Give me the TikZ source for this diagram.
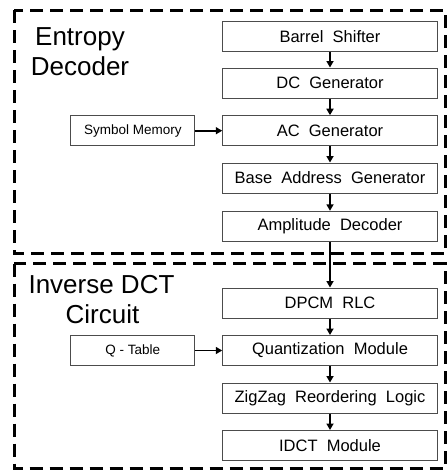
\documentclass[tikz,border=0pt]{standalone}
\usepackage{fontspec}
\setmainfont{Liberation Sans}
\newfontfamily\wideboxfont[WordSpace=2]{Liberation Sans}
\usetikzlibrary{arrows.meta}
\tikzset{
  mainbox/.style={draw=black!70, line width=1pt, minimum width=214.5pt, minimum height=30pt, inner sep=0pt,
    font=\wideboxfont\fontsize{16.5}{18}\selectfont},
  sidebox/.style={draw=black!70, line width=1pt, minimum width=124.3pt, minimum height=30pt, inner sep=0pt,
    font=\fontsize{13.5}{16}\selectfont},
  biglabel/.style={anchor=base, inner sep=0pt, font=\fontsize{26}{30}\selectfont},
  flow/.style={line width=1.8pt, -{Triangle[length=6.5pt,width=7pt]}},
  region/.style={line width=3pt, dash pattern=on 13pt off 7pt},
}
\begin{document}
\begin{tikzpicture}[x=1pt,y=-1pt]
\useasboundingbox (0,0) rectangle (447,474);
% regions
\draw[region] (14,10) rectangle (445.5,253);
\draw[region] (14,263.5) rectangle (445.5,468);
% labels
\node[biglabel] (l1) at (80,45) {Entropy};
\node[biglabel] (l2) at (80,75) {Decoder};
\node[biglabel] (l3) at (101.5,293) {Inverse DCT};
\node[biglabel] (l4) at (102.5,323) {Circuit};
% main column
\node[mainbox] (bs) at (330,36.3) {Barrel Shifter};
\node[mainbox] (dc) at (330,83) {DC Generator};
\node[mainbox] (ac) at (330,130.7) {AC Generator};
\node[mainbox] (ba) at (330,178) {Base Address Generator};
\node[mainbox] (ad) at (330,226.3) {Amplitude Decoder};
\node[mainbox] (dp) at (330,303) {DPCM RLC};
\node[mainbox] (qm) at (330,350.5) {Quantization Module};
\node[mainbox] (zz) at (330,398) {ZigZag Reordering Logic};
\node[mainbox] (id) at (330,445.5) {IDCT Module};
% side boxes
\node[sidebox] (sm) at (132.8,130.7) {Symbol Memory};
\node[sidebox] (qt) at (132.8,350.5) {Q - Table};
% connectors
\draw[flow] (bs) -- (dc);
\draw[flow] (dc) -- (ac);
\draw[flow] (ac) -- (ba);
\draw[flow] (ba) -- (ad);
\draw[flow] (ad) -- (dp);
\draw[flow] (dp) -- (qm);
\draw[flow] (qm) -- (zz);
\draw[flow] (zz) -- (id);
\draw[flow] (sm) -- (ac);
\draw[flow] (qt) -- (qm);
\end{tikzpicture}
\end{document}
